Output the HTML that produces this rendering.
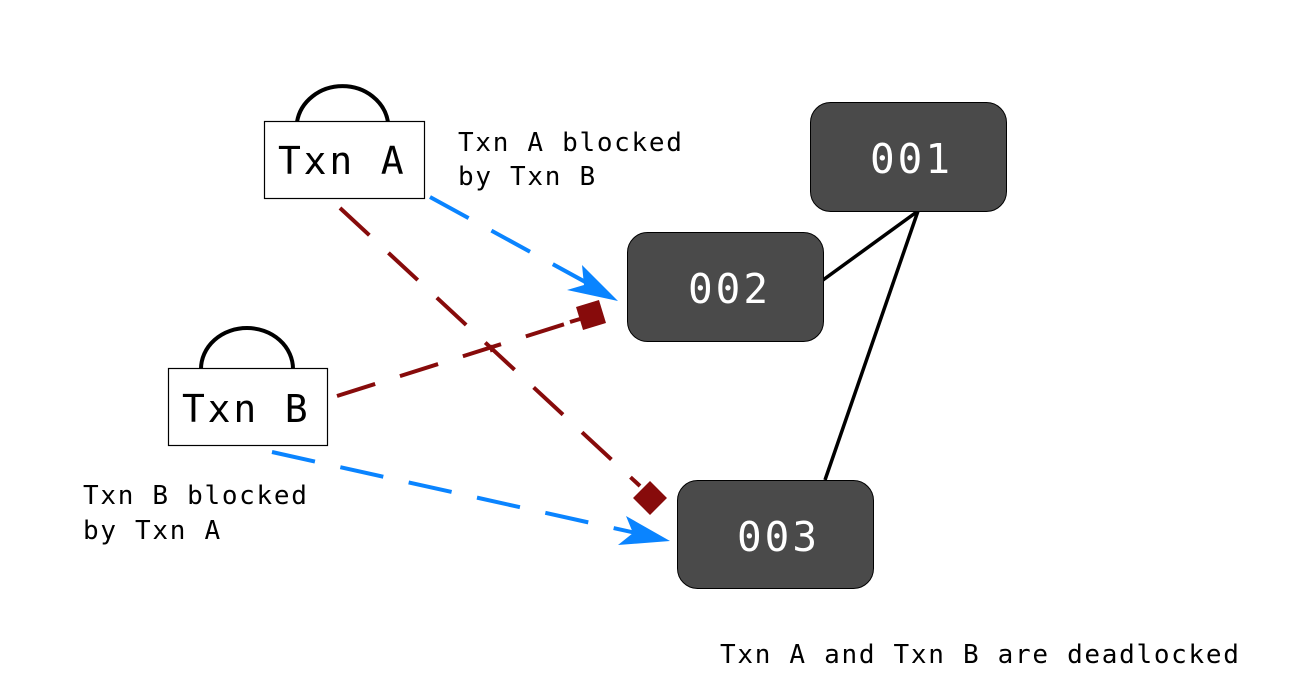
<!DOCTYPE html>
<html><head><meta charset="utf-8"><style>
html,body{margin:0;padding:0;background:#fff;}
svg{display:block;}
text{font-family:"DejaVu Sans Mono","Liberation Mono",monospace;}
</style></head><body>
<svg width="1294" height="697" viewBox="0 0 1294 697" xmlns="http://www.w3.org/2000/svg">
<line x1="823" y1="280" x2="918" y2="211" stroke="#000" stroke-width="3.5"/>
<line x1="918" y1="211" x2="825" y2="480" stroke="#000" stroke-width="3.5"/>
<rect x="810.5" y="102.5" width="196" height="109" rx="20" fill="#4a4a4a" stroke="#000" stroke-width="1"/>
<rect x="627.5" y="232.5" width="196" height="109" rx="20" fill="#4a4a4a" stroke="#000" stroke-width="1"/>
<rect x="677.5" y="480.5" width="196" height="108" rx="20" fill="#4a4a4a" stroke="#000" stroke-width="1"/>
<text x="870" y="173" font-size="41" fill="#fff" letter-spacing="3">001</text>
<text x="688" y="303" font-size="41" fill="#fff" letter-spacing="3">002</text>
<text x="737" y="551" font-size="41" fill="#fff" letter-spacing="3">003</text>
<path d="M297,122 A46,42 0 0 1 388,122" fill="none" stroke="#000" stroke-width="4"/>
<rect x="264.5" y="121.5" width="160" height="77" fill="#fff" stroke="#000" stroke-width="1.2"/>
<text x="278" y="174" font-size="38" letter-spacing="2.8">Txn A</text>
<path d="M201,369 A46,41 0 0 1 293,369" fill="none" stroke="#000" stroke-width="4"/>
<rect x="168.5" y="368.5" width="159" height="77" fill="#fff" stroke="#000" stroke-width="1.2"/>
<text x="182" y="422" font-size="38" letter-spacing="2.8">Txn B</text>
<g stroke="#870b0b" stroke-width="4" fill="none" stroke-dasharray="40,26">
<line x1="340" y1="208" x2="640" y2="486"/>
<line x1="337" y1="396" x2="584" y2="318"/>
</g>
<line x1="490" y1="345" x2="492" y2="352" stroke="#870b0b" stroke-width="3"/>
<line x1="570" y1="322" x2="580" y2="319" stroke="#870b0b" stroke-width="4"/>
<rect x="-12" y="-12" width="24" height="24" fill="#870b0b" transform="translate(591,315) rotate(-17)"/>
<rect x="-12" y="-12" width="24" height="24" fill="#870b0b" transform="translate(650,498) rotate(45)"/>
<g stroke="#0a84ff" stroke-width="4" fill="none" stroke-dasharray="44,26">
<line x1="430" y1="197" x2="600" y2="290"/>
<line x1="272" y1="452" x2="645" y2="535"/>
</g>
<path d="M618,301 L567,290 L584,285 L582,265 Z" fill="#0a84ff"/>
<path d="M670,541 L618,545 L633,533 L626,516 Z" fill="#0a84ff"/>
<text x="458" y="151" font-size="26" letter-spacing="1.7">Txn A blocked</text>
<text x="458" y="185" font-size="26" letter-spacing="1.7">by Txn B</text>
<text x="83" y="504" font-size="26" letter-spacing="1.7">Txn B blocked</text>
<text x="83" y="539" font-size="26" letter-spacing="1.7">by Txn A</text>
<text x="720" y="663" font-size="26" letter-spacing="1.7">Txn A and Txn B are deadlocked</text>
</svg>
</body></html>
